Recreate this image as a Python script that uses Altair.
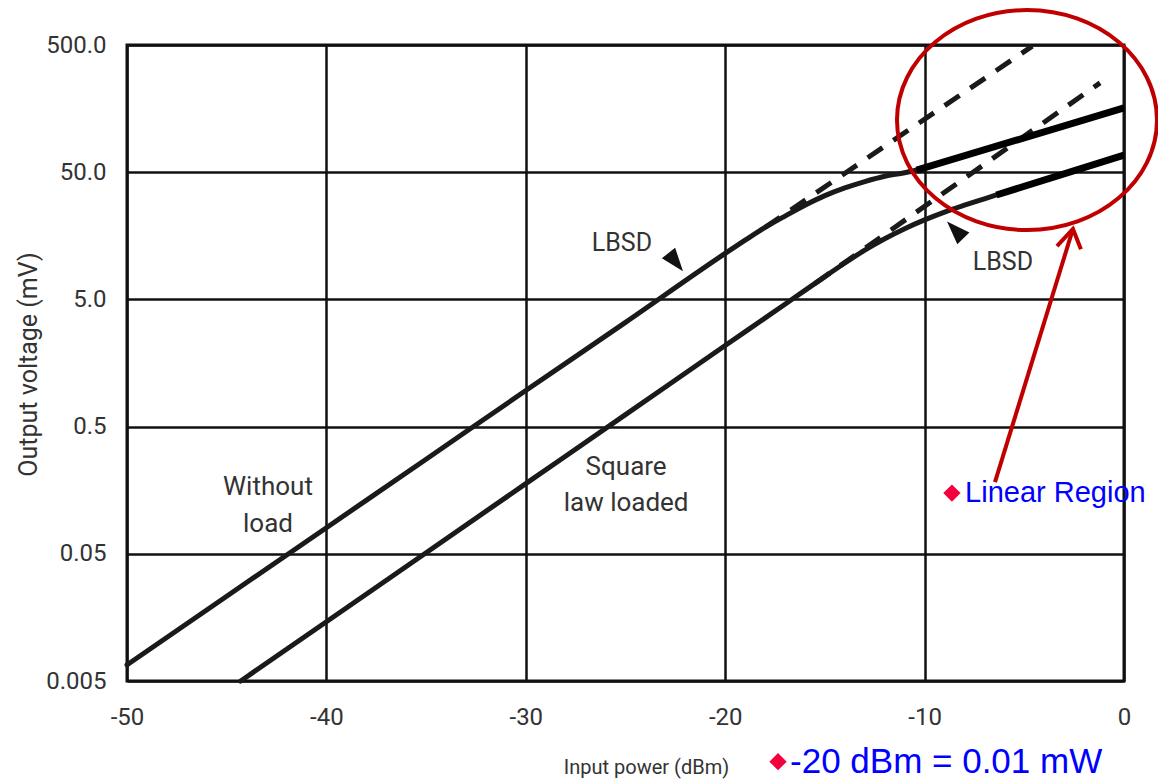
import altair as alt
import pandas as pd

NARROW = "Roboto, Liberation Sans, sans-serif"
SANS = "Liberation Sans, Arial, sans-serif"
TXT = "#333333"
RED = "#c00000"
BLUE = "#0000ff"
PINK = "#f5003d"

# ---- data ----
x_ticks = [-50, -40, -30, -20, -10, 0]
y_ticks = [0.005, 0.05, 0.5, 5, 50, 500]

# "Without load" curve (solid)
wl_x = [-50, -45, -40, -35, -30, -25, -20, -19, -18, -17, -16, -15, -14, -13, -12, -11, -10.4]
wl_y = [0.0067, 0.0232, 0.0802, 0.277, 0.96, 3.3, 11.5, 14.6, 18.4, 22.6, 27.5, 32.7,
        37.6, 42.2, 46.5, 49.5, 52.0]
# "Square law loaded" curve (solid)
sl_x = [-44.3, -40, -35, -30, -25, -20, -17, -16, -15, -14, -13, -12, -11, -10, -9, -8, -7, -6.4]
sl_y = [0.005, 0.0146, 0.051, 0.178, 0.621, 2.17, 4.58, 5.89, 7.55, 9.66, 12.2, 15.0,
        18.0, 21.1, 24.3, 27.5, 30.9, 33.1]
# dashed square-law extensions
wl_dash_x = [-18, -4.6]
wl_dash_y = [18.4, 490]
sl_dash_x = [-15.5, -1.2]
sl_dash_y = [6.67, 252]
# thick "linear region" segments
wl_lin_x = [-10.4, 0]
wl_lin_y = [52, 160]
sl_lin_x = [-6.4, 0]
sl_lin_y = [33.1, 68]

# annotations (data coordinates)
narrow_texts = ["Without", "load", "Square", "law loaded"]
narrow_x = [-42.93, -42.93, -24.97, -24.97]
narrow_y = [0.1675, 0.0857, 0.2405, 0.1253]
lbsd_texts = ["LBSD", "LBSD"]
lbsd_x = [-25.18, -6.07]
lbsd_y = [13.9, 9.84]
tri_x = [-22.52, -8.42]
tri_y = [9.99, 17.3]
tri_angle = [141.7, 315.8]

blue_texts = ["Linear Region", "-20 dBm = 0.01 mW"]
blue_x = [-7.97, -16.75]
blue_y = [0.150, 0.00115]
blue_size = [29, 35]
diam_x = [-8.63, -17.35]
diam_y = [0.150, 0.00116]

ell_x = [-4.865]
ell_y = [128.5]

arrow_grp = ["shaft", "shaft", "head", "head", "head"]
arrow_ord = [0, 1, 0, 1, 2]
arrow_x = [-6.47, -2.56, -3.36, -2.56, -2.16]
arrow_y = [0.183, 17.9, 13.1, 17.9, 12.4]

xs = alt.Scale(domain=[-50, 0], nice=False, zero=False)
ys = alt.Scale(type="log", domain=[0.005, 500], nice=False)


def enc(chart, **extra):
    return chart.encode(
        x=alt.X("x:Q", scale=xs),
        y=alt.Y("y:Q", scale=ys),
        **extra,
    )


def line_layer(xv, yv, **mk):
    df = pd.DataFrame({"x": xv, "y": yv})
    return enc(alt.Chart(df).mark_line(**mk))


curve_mk = dict(color="#1a1a1a", strokeWidth=5, interpolate="monotone", strokeCap="round")

base = alt.Chart(pd.DataFrame({"x": wl_x, "y": wl_y})).mark_line(**curve_mk).encode(
    x=alt.X("x:Q", scale=xs,
            axis=alt.Axis(values=x_ticks, labelExpr="'' + datum.value",
                          title="Input power (dBm)")),
    y=alt.Y("y:Q", scale=ys,
            axis=alt.Axis(values=y_ticks,
                          labelExpr="datum.value >= 5 ? format(datum.value, '.1f') : format(datum.value, '~g')",
                          title="Output voltage (mV)")),
)

sl_layer = line_layer(sl_x, sl_y, **curve_mk)
dash_mk = dict(color="#1a1a1a", strokeWidth=5, strokeDash=[18, 13])
wl_dash = line_layer(wl_dash_x, wl_dash_y, **dash_mk)
sl_dash = line_layer(sl_dash_x, sl_dash_y, **dash_mk)
thick_mk = dict(color="#000000", strokeWidth=7)
wl_lin = line_layer(wl_lin_x, wl_lin_y, **thick_mk)
sl_lin = line_layer(sl_lin_x, sl_lin_y, **thick_mk)

narrow_layer = enc(alt.Chart(pd.DataFrame({"x": narrow_x, "y": narrow_y, "t": narrow_texts})).mark_text(
    font=NARROW, fontSize=26, color=TXT, align="center", baseline="middle"), text="t:N")

lbsd_layer = enc(alt.Chart(pd.DataFrame({"x": lbsd_x, "y": lbsd_y, "t": lbsd_texts})).mark_text(
    font=NARROW, fontSize=25, color=TXT, align="center", baseline="middle"), text="t:N")

tri_layer = enc(alt.Chart(pd.DataFrame({"x": tri_x, "y": tri_y, "a": tri_angle})).mark_point(
    shape="M0,-1L0.65,0.8L-0.65,0.8Z", filled=True, color="#111111", opacity=1, size=676),
    angle=alt.Angle("a:Q", scale=None))

ellipse = enc(alt.Chart(pd.DataFrame({"x": ell_x, "y": ell_y})).mark_point(
    shape="M-1,0 A1,0.846,0,1,1,1,0 A1,0.846,0,1,1,-1,0 Z",
    filled=False, color=RED, strokeWidth=4, opacity=1, size=67600))

arrow = enc(alt.Chart(pd.DataFrame({"x": arrow_x, "y": arrow_y, "g": arrow_grp, "o": arrow_ord})).mark_line(
    color=RED, strokeWidth=4, strokeJoin="miter"), detail="g:N", order="o:Q")

diamonds = enc(alt.Chart(pd.DataFrame({"x": diam_x, "y": diam_y})).mark_point(
    shape="M-1,0L0,-1L1,0L0,1Z", filled=True, color=PINK, opacity=1, size=300))

blue_layer = enc(alt.Chart(pd.DataFrame({"x": blue_x, "y": blue_y, "t": blue_texts, "s": blue_size})).mark_text(
    font=SANS, color=BLUE, align="left", baseline="middle"),
    text="t:N", size=alt.Size("s:Q", scale=None))

chart = alt.layer(
    base, sl_layer, wl_dash, sl_dash, wl_lin, sl_lin,
    narrow_layer, lbsd_layer, tri_layer, ellipse, arrow, diamonds, blue_layer,
).properties(
    width=997, height=636,
    autosize=alt.AutoSizeParams(type="none"),
    padding={"left": 119, "top": 37, "right": 34, "bottom": 100},
).configure_view(
    stroke="#111111", strokeWidth=3
).configure_axis(
    grid=True, ticks=False, domain=False, gridColor="#111111", gridWidth=2.5, gridOpacity=1,
    labelFont=NARROW, labelColor=TXT, titleFont=NARROW, titleFontWeight="normal", titleColor=TXT,
    labelFlush=False,
).configure_axisX(
    labelFontSize=24, labelPadding=24, titleFontSize=20,
    titleX=519, titleY=86, titleAlign="center", titleBaseline="middle",
).configure_axisY(
    labelFontSize=24, labelPadding=21, titleFontSize=25,
    titleX=-99, titleY=319, titleAngle=270, titleAlign="center", titleBaseline="middle",
)

chart.save("out.html", embed_options={"renderer": "svg", "actions": False})
